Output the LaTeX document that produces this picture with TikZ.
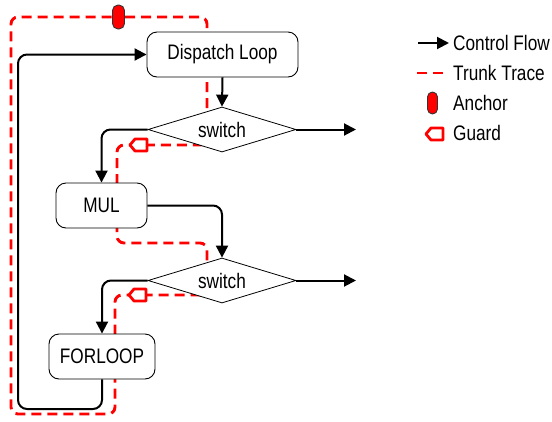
\documentclass[tikz,border=0pt]{standalone}
\usepackage{fontspec}
\setmainfont{Liberation Sans}
\usetikzlibrary{arrows.meta,shapes.geometric}

\definecolor{trunkred}{RGB}{255,0,0}
\newcommand{\narrowtxt}[1]{\scalebox{0.82}[1]{#1}}

\tikzset{
	block/.style={draw, rounded corners=10pt, fill=white, line width=0.9pt, minimum height=45pt, inner sep=0pt,
		font=\fontsize{21}{24}\selectfont},
	switchbox/.style={draw, diamond, fill=white, line width=0.8pt, minimum width=148pt, minimum height=45pt,
		inner sep=0pt, aspect=3.3, font=\fontsize{21}{24}\selectfont},
	flow/.style={line width=2pt, rounded corners=9pt, -{Triangle[length=12pt,width=12pt]}},
	trunk/.style={trunkred, line width=2.9pt, dash pattern=on 10pt off 6pt, rounded corners=7pt},
	anchorpill/.style={draw=black!80, fill=trunkred, line width=0.9pt, rounded corners=5.5pt,
		minimum width=12pt, minimum height=24pt, inner sep=0pt},
	guard/.pic={\draw[trunkred, line width=2.8pt, fill=white, line join=round]
		(-9,0) -- (-4,-6) -- (8,-6) -- (8,6) -- (-4,6) -- cycle;},
	legendtxt/.style={anchor=west, inner sep=0pt, font=\fontsize{21}{24}\selectfont}
}

\begin{document}
\begin{tikzpicture}[x=1pt, y=-1pt]
	\useasboundingbox (0,0) rectangle (552,421);

	% trunk trace, drawn first so that the blocks sit on top of it
	\draw[trunk] (118,17) -- (207,17) -- (207,145) -- (117,145) -- (117,243) -- (207,243)
		-- (207,295) -- (115,295) -- (115,414) -- (11,414) -- (11,17) -- cycle;

	% blocks
	\node[block, minimum width=151pt] (dispatch) at (222.5,54.5) {\narrowtxt{Dispatch Loop}};
	\node[switchbox] (sw1) at (222,129.5) {\narrowtxt{switch}};
	\node[block, minimum width=91pt] (mul) at (101.5,205.5) {\narrowtxt{MUL}};
	\node[switchbox] (sw2) at (222,280.5) {\narrowtxt{switch}};
	\node[block, minimum width=106pt] (forloop) at (102,356.5) {\narrowtxt{FORLOOP}};

	\coordinate (exit1) at (356,129.5);
	\coordinate (exit2) at (356,280.5);
	\coordinate (loopcorner) at (18,409);

	% control flow
	\draw[flow] (dispatch.south) -- (sw1.north);
	\draw[flow] (sw1.east) -- (exit1);
	\draw[flow] (sw1.west) -| (mul.north);
	\draw[flow] (mul.east) -| (sw2.north);
	\draw[flow] (sw2.east) -- (exit2);
	\draw[flow] (sw2.west) -| (forloop.north);
	\draw[flow] (forloop.south) |- (loopcorner) |- (dispatch.west);

	% anchor and guards on the trace
	\node[anchorpill] (anchor) at (118.5,17) {};
	\pic at (139,145) {guard};
	\pic at (138,295) {guard};

	% legend
	\coordinate (lg1) at (418,43);
	\coordinate (lg1e) at (449,43);
	\coordinate (lg2) at (417,73);
	\coordinate (lg2e) at (449,73);
	\draw[line width=2pt, -{Triangle[length=12pt,width=12pt]}] (lg1) -- (lg1e);
	\draw[trunkred, line width=2.9pt, dash pattern=on 10pt off 6pt] (lg2) -- (lg2e);
	\node[anchorpill, minimum width=10pt, minimum height=22pt, rounded corners=5pt] (lganchor) at (432.5,103) {};
	\pic at (435,134) {guard};
	\node[legendtxt] (txflow) at (453,43) {\narrowtxt{Control Flow}};
	\node[legendtxt] (txtrunk) at (453,73) {\narrowtxt{Trunk Trace}};
	\node[legendtxt] (txanchor) at (453,103) {\narrowtxt{Anchor}};
	\node[legendtxt] (txguard) at (453,133) {\narrowtxt{Guard}};
\end{tikzpicture}
\end{document}
